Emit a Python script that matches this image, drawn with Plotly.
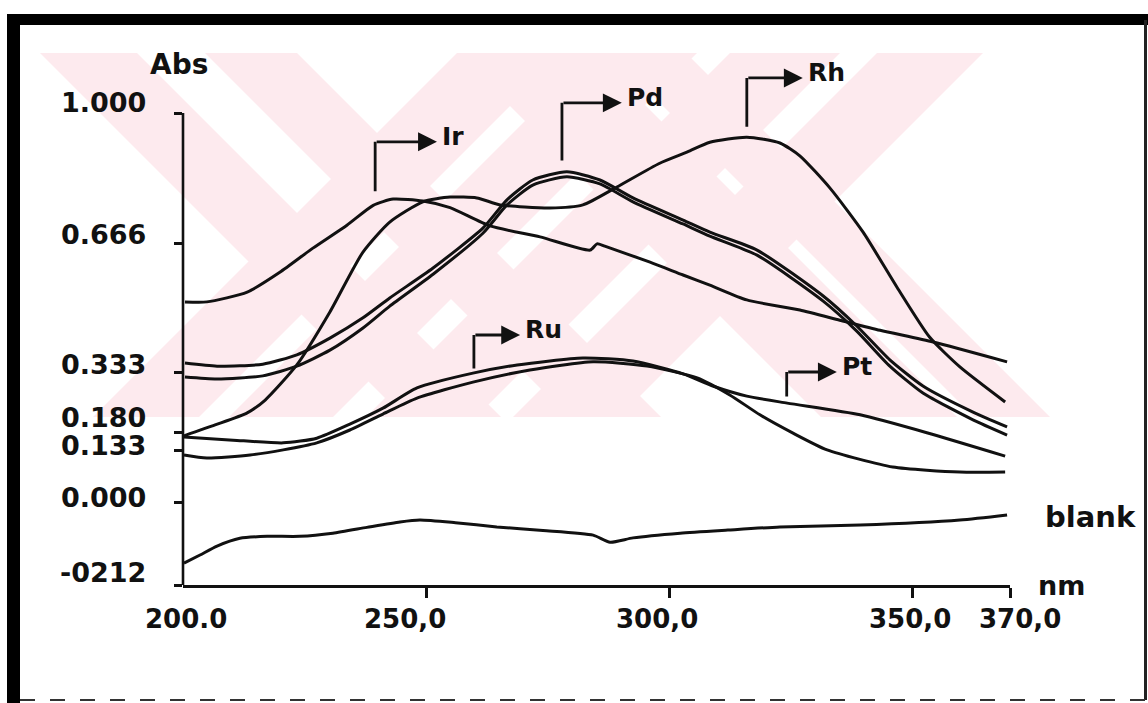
import plotly.graph_objects as go

# ---------------------------------------------------------------- data
# Absorption spectra, wavelength in nm, absorbance in Abs units

ir_nm = [200.4, 204.9, 213.2, 219.9, 226.7, 233.7, 239.1, 243.2, 249.3, 254.9,
         263.1, 273.4, 283.7, 285.1, 286.7, 296.0, 302.8, 308.3, 315.9, 326.8,
         335.0, 343.3, 354.2, 369.4]
ir_abs = [0.515, 0.515, 0.540, 0.591, 0.653, 0.712, 0.763, 0.779, 0.774, 0.757,
          0.710, 0.682, 0.648, 0.664, 0.658, 0.617, 0.584, 0.558, 0.520, 0.494,
          0.468, 0.442, 0.412, 0.361]

rh_nm = [200.2, 206.6, 213.2, 216.9, 223.4, 230.2, 237.0, 242.5, 249.3, 254.9,
         260.4, 265.2, 275.4, 282.2, 289.2, 298.0, 303.7, 308.3, 315.9, 322.7,
         326.8, 333.0, 339.8, 346.8, 353.5, 359.7, 369.0]
rh_abs = [0.171, 0.199, 0.230, 0.263, 0.353, 0.489, 0.643, 0.720, 0.772, 0.784,
          0.782, 0.764, 0.756, 0.764, 0.810, 0.871, 0.900, 0.925, 0.938, 0.923,
          0.890, 0.807, 0.694, 0.552, 0.424, 0.348, 0.258]

pd_nm = [200.4, 207.0, 216.4, 223.4, 230.2, 237.0, 242.5, 251.4, 261.7, 266.6,
         271.9, 278.9, 285.7, 292.5, 302.8, 308.3, 318.0, 331.6, 338.5, 345.3,
         352.1, 362.4, 369.4]
pd_abs_a = [0.358, 0.350, 0.355, 0.379, 0.422, 0.474, 0.525, 0.602, 0.705, 0.777,
            0.828, 0.849, 0.828, 0.782, 0.725, 0.694, 0.648, 0.530, 0.453, 0.366,
            0.299, 0.232, 0.194]
pd_abs_b = [0.322, 0.317, 0.325, 0.350, 0.391, 0.448, 0.504, 0.586, 0.692, 0.764,
            0.815, 0.836, 0.818, 0.772, 0.715, 0.684, 0.635, 0.517, 0.440, 0.350,
            0.281, 0.212, 0.173]

pt_nm = [200.2, 210.3, 220.6, 227.5, 234.3, 241.1, 248.1, 259.6, 268.7, 282.2,
         292.5, 302.8, 308.9, 315.9, 324.2, 339.2, 352.9, 369.0]
pt_abs = [0.168, 0.160, 0.153, 0.165, 0.201, 0.242, 0.294, 0.332, 0.353, 0.371,
          0.363, 0.330, 0.299, 0.273, 0.255, 0.225, 0.179, 0.119]

ru_nm = [200.2, 204.9, 213.8, 220.6, 227.5, 234.3, 241.1, 248.1, 259.6, 271.3,
         284.3, 295.4, 305.7, 312.4, 318.6, 325.4, 332.4, 345.9, 359.7, 369.0]
ru_abs = [0.122, 0.114, 0.122, 0.135, 0.153, 0.186, 0.227, 0.268, 0.309, 0.340,
          0.361, 0.350, 0.320, 0.276, 0.225, 0.178, 0.135, 0.091, 0.078, 0.078]

blank_nm = [200.2, 203.5, 207.0, 211.7, 217.3, 224.0, 230.8, 237.8, 244.6, 248.7,
            256.0, 264.5, 274.0, 284.3, 287.8, 292.5, 302.2, 312.0, 322.7, 339.2,
            359.7, 369.4]
blank_abs = [-0.156, -0.135, -0.112, -0.092, -0.087, -0.087, -0.079, -0.064, -0.050,
             -0.045, -0.052, -0.063, -0.072, -0.084, -0.102, -0.091, -0.079, -0.071,
             -0.063, -0.058, -0.045, -0.032]

# axis ticks
x_tick_vals = [200, 250, 300, 350, 370]
x_tick_text = ["200.0", "250,0", "300,0", "350,0", "370,0"]
y_tick_vals = [1.000, 0.666, 0.333, 0.180, 0.133, 0.000, -0.212]
y_tick_text = ["1.000", "0.666", "0.333", "0.180", "0.133", "0.000", "-0212"]

# element callouts: stem position, stem bottom/top and arrow tip
callout_text = ["Ir", "Pd", "Rh", "Ru", "Pt"]
callout_stem_nm = [239.5, 277.9, 315.9, 259.8, 324.1]
callout_stem_low = [0.795, 0.874, 0.961, 0.340, 0.268]
callout_stem_top = [0.926, 1.026, 1.090, 0.430, 0.335]
callout_tip_nm = [252.2, 290.2, 327.4, 269.3, 334.4]

# ---------------------------------------------------------------- layout
FIG_W, FIG_H = 1148, 703
M_L, M_R, M_T, M_B = 183, 138, 40, 118
PLOT_W = FIG_W - M_L - M_R
PLOT_H = FIG_H - M_T - M_B

Y_MIN, Y_AXIS_TOP = -0.212, 1.0
AXIS_TOP_PX = 113                       # where the drawn y axis stops
units_per_px = (Y_AXIS_TOP - Y_MIN) / (FIG_H - M_B - AXIS_TOP_PX)
Y_MAX = Y_AXIS_TOP + (AXIS_TOP_PX - M_T) * units_per_px   # headroom for callouts

INK = "#111111"
PINK = "#fdeaee"
FONT = "DejaVu Sans"


def px(x):
    return (x - M_L) / PLOT_W


def py(y):
    return (FIG_H - M_B - y) / PLOT_H


fig = go.Figure()

series = [
    (ir_nm, ir_abs), (rh_nm, rh_abs), (pd_nm, pd_abs_a), (pd_nm, pd_abs_b),
    (pt_nm, pt_abs), (ru_nm, ru_abs), (blank_nm, blank_abs),
]
for xs, ys in series:
    fig.add_trace(go.Scatter(
        x=xs, y=ys, mode="lines",
        line=dict(color=INK, width=3, shape="spline", smoothing=0.6),
        hoverinfo="skip", showlegend=False,
    ))

shapes = []

# background emblem: two families of diagonal bands, clipped to a strip
WM_TOP, WM_BOT = 53, 417
drop = WM_BOT - WM_TOP
down_right_bands = [(40, 137), (205, 297), (457, 593), (610, 686)]
down_left_bands = [(457, 563), (593, 697), (730, 840), (877, 983)]


def band_path(a, b, dx):
    pts = [(a, WM_TOP), (b, WM_TOP), (b + dx, WM_BOT), (a + dx, WM_BOT)]
    return "M " + " L ".join(f"{px(x):.5f},{py(y):.5f}" for x, y in pts) + " Z"


for a, b in down_right_bands:
    shapes.append(dict(type="path", path=band_path(a, b, drop), xref="paper",
                       yref="paper", fillcolor=PINK, line=dict(width=0), layer="below"))
for a, b in down_left_bands:
    shapes.append(dict(type="path", path=band_path(a, b, -drop), xref="paper",
                       yref="paper", fillcolor=PINK, line=dict(width=0), layer="below"))

# y axis line, stopping at the top tick
shapes.append(dict(type="line", xref="paper", yref="y", x0=0, x1=0,
                   y0=Y_MIN, y1=Y_AXIS_TOP, line=dict(color=INK, width=2.6),
                   layer="above"))


# page frame
def rect(x0, y0, x1, y1, color=INK):
    return dict(type="rect", xref="paper", yref="paper",
                x0=px(x0), x1=px(x1), y0=py(y1), y1=py(y0),
                fillcolor=color, line=dict(width=0), layer="above")


shapes.append(rect(7, 14, 20, 703, "#000000"))
shapes.append(rect(7, 14, 1148, 25, "#000000"))
shapes.append(rect(1144, 20, 1147, 700, "#222222"))
shapes.append(dict(type="line", xref="paper", yref="paper",
                   x0=px(20), x1=px(1148), y0=py(700), y1=py(700),
                   line=dict(color="#333333", width=2, dash="longdash")))

annotations = []

# tick labels
y_label_shift = [11, 9, 8, 15, 5, 5, 13]
for v, t, s in zip(y_tick_vals, y_tick_text, y_label_shift):
    annotations.append(dict(x=px(148), xref="paper", y=v, yref="y", text=t,
                            xanchor="right", yanchor="middle", yshift=s,
                            showarrow=False,
                            font=dict(size=27, color=INK, family=FONT, weight="bold")))

x_label_shift = [3, -21, -12, -3, 10]
for v, t, s in zip(x_tick_vals, x_tick_text, x_label_shift):
    annotations.append(dict(x=v, xref="x", y=py(619), yref="paper", text=t,
                            xanchor="center", yanchor="middle", xshift=s,
                            showarrow=False,
                            font=dict(size=26, color=INK, family=FONT, weight="bold")))

# axis captions and blank label
annotations.append(dict(x=px(179), y=py(65), xref="paper", yref="paper", text="Abs",
                        showarrow=False, xanchor="center", yanchor="middle",
                        font=dict(size=28, color=INK, family=FONT, weight="bold")))
annotations.append(dict(x=px(1061), y=py(585), xref="paper", yref="paper", text="nm",
                        showarrow=False, xanchor="center", yanchor="middle",
                        font=dict(size=27, color=INK, family=FONT, weight="bold")))
annotations.append(dict(x=px(1090), y=py(517), xref="paper", yref="paper", text="blank",
                        showarrow=False, xanchor="center", yanchor="middle",
                        font=dict(size=29, color=INK, family=FONT, weight="bold")))

# element callouts: vertical stem, right-pointing arrow, element symbol
for name, sx, lo, hi, tip in zip(callout_text, callout_stem_nm, callout_stem_low,
                                 callout_stem_top, callout_tip_nm):
    annotations.append(dict(x=sx, y=hi, ax=sx, ay=lo, xref="x", yref="y",
                            axref="x", ayref="y", text="", showarrow=True,
                            arrowhead=0, arrowwidth=2.8, arrowcolor=INK))
    annotations.append(dict(x=tip, y=hi, ax=sx, ay=hi, xref="x", yref="y",
                            axref="x", ayref="y", text="", showarrow=True,
                            arrowhead=2, arrowsize=1.35, arrowwidth=2.8, arrowcolor=INK))
    annotations.append(dict(x=tip, y=hi, xref="x", yref="y", text=name,
                            xanchor="left", yanchor="middle", xshift=3, yshift=5,
                            showarrow=False,
                            font=dict(size=25, color=INK, family=FONT, weight="bold")))

fig.update_layout(
    width=FIG_W, height=FIG_H,
    margin=dict(l=M_L, r=M_R, t=M_T, b=M_B, pad=0),
    paper_bgcolor="white", plot_bgcolor="rgba(0,0,0,0)",
    font=dict(family=FONT, color=INK),
    shapes=shapes, annotations=annotations, showlegend=False,
    xaxis=dict(range=[200, 370], showgrid=False, zeroline=False,
               showline=True, linecolor=INK, linewidth=2.6, mirror=False,
               ticks="outside", ticklen=10, tickwidth=2.6, tickcolor=INK,
               tickvals=x_tick_vals[1:], showticklabels=False, fixedrange=True),
    yaxis=dict(range=[Y_MIN, Y_MAX], showgrid=False, zeroline=False,
               showline=False, ticks="outside", ticklen=8, tickwidth=2.6,
               tickcolor=INK, tickvals=y_tick_vals, showticklabels=False,
               fixedrange=True),
)

fig.write_html("out.html")
